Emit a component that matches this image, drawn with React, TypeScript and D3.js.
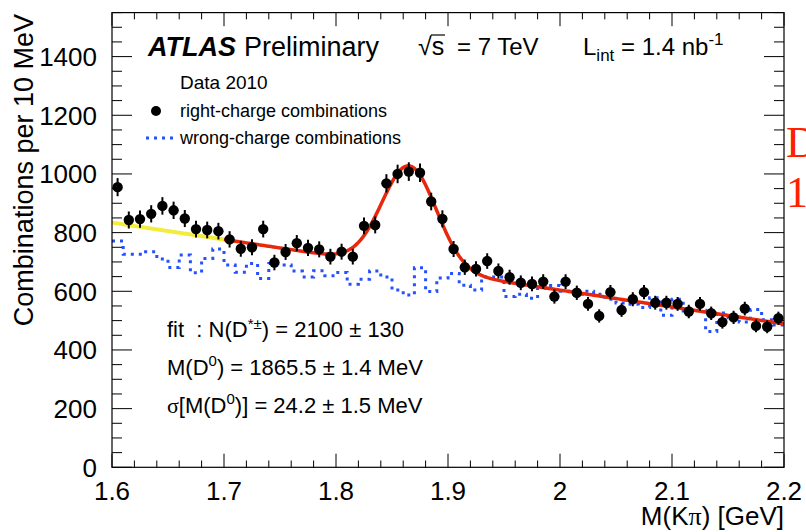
import React from "react";
import * as d3 from "d3";

// Histogram binning of the K-pi invariant mass (GeV)
const massLow = 1.6;
const massHigh = 2.2;
const binWidth = 0.01;

// Right-charge K-pi combinations per 10 MeV bin
const rightCharge = [
  955, 843, 846, 864, 891, 876, 848, 812, 809, 805,
  777, 745, 750, 812, 698, 734, 764, 748, 743, 718,
  735, 718, 823, 826, 968, 1000, 1008, 1004, 906, 847,
  744, 682, 676, 703, 669, 648, 629, 625, 633, 582,
  633, 595, 557, 516, 597, 536, 573, 597, 561, 561,
  557, 531, 557, 525, 495, 511, 541, 482, 479, 508,
];

// Wrong-charge K-pi combinations per 10 MeV bin
const wrongCharge = [
  771, 726, 726, 735, 710, 681, 724, 663, 712, 744,
  690, 665, 695, 644, 695, 690, 669, 649, 670, 653,
  664, 624, 641, 669, 649, 604, 587, 680, 599, 645,
  661, 621, 604, 649, 649, 582, 590, 576, 610, 620,
  600, 590, 600, 590, 573, 560, 556, 545, 578, 518,
  573, 533, 535, 463, 526, 510, 495, 538, 503, 485,
];

// Fit: Gaussian signal on a linear background
const fitSignalYield = 2100; // N(D*±)
const fitMean = 1.8655; // GeV
const fitSigma = 0.0242; // GeV
const fitBkgAtLow = 834; // background at 1.6 GeV, per bin
const fitBkgSlope = -575; // per GeV
const fitRangeStart = 1.7;

const xMajorTicks = [1.6, 1.7, 1.8, 1.9, 2.0, 2.1, 2.2];
const xTickLabels = ["1.6", "1.7", "1.8", "1.9", "2", "2.1", "2.2"];
const yMajorTicks = [0, 200, 400, 600, 800, 1000, 1200, 1400];

const W = 806;
const H = 532;
const left = 112;
const right = 784;
const top = 12.6;
const bottom = 467.3;
const yMax = 1550;

const FONT = "'Liberation Sans', Arial, Helvetica, sans-serif";
const SERIF = "'Liberation Serif', 'Times New Roman', serif";

const x = d3.scaleLinear().domain([massLow, massHigh]).range([left, right]);
const y = d3.scaleLinear().domain([0, yMax]).range([bottom, top]);

const background = (m: number) => fitBkgAtLow + fitBkgSlope * (m - massLow);
const signal = (m: number) =>
  ((fitSignalYield * binWidth) / (fitSigma * Math.sqrt(2 * Math.PI))) *
  Math.exp(-0.5 * ((m - fitMean) / fitSigma) ** 2);

export default function App() {
  const nBins = rightCharge.length;
  const centers = d3.range(nBins).map((i) => massLow + (i + 0.5) * binWidth);

  // Wrong-charge step histogram
  const stepPts: [number, number][] = wrongCharge.map((v, i) => [massLow + i * binWidth, v]);
  stepPts.push([massHigh, wrongCharge[wrongCharge.length - 1]]);
  const stepLine = d3
    .line<[number, number]>()
    .x((d) => x(d[0]))
    .y((d) => y(d[1]))
    .curve(d3.curveStepAfter);

  // Fit curves
  const curveLine = d3
    .line<number>()
    .x((m) => x(m))
    .y((m) => y(background(m) + signal(m)));
  const fitGrid = d3.range(fitRangeStart, massHigh + 1e-9, 0.002);
  const bkgLine = d3
    .line<number>()
    .x((m) => x(m))
    .y((m) => y(background(m)));
  const extrapGrid = [massLow, fitRangeStart];

  const xMinor = d3.range(0, 31).map((i) => massLow + i * 0.02);
  const yMinor = d3.range(0, yMax + 1, 50);

  const xMajLen = 13.6;
  const xMinLen = 6.8;
  const yMajLen = 20;
  const yMinLen = 10;

  return (
    <svg
      width={W}
      height={H}
      style={{ position: "absolute", left: 0, top: 0, background: "#fff" }}
      fontFamily={FONT}
    >
      <rect x={0} y={0} width={W} height={H} fill="#fff" />

      {/* wrong-charge histogram */}
      <path
        d={stepLine(stepPts) || ""}
        fill="none"
        stroke="#2450ff"
        strokeWidth={3}
        strokeDasharray="3 5"
      />

      {/* background extrapolation below the fit range */}
      <path d={bkgLine(extrapGrid) || ""} fill="none" stroke="#f2ec3c" strokeWidth={4} />
      {/* fit */}
      <path d={curveLine(fitGrid) || ""} fill="none" stroke="#e8280c" strokeWidth={3.5} />

      {/* right-charge data points with statistical errors */}
      {rightCharge.map((v, i) => {
        const err = Math.sqrt(v);
        return (
          <g key={i}>
            <line
              x1={x(centers[i])}
              x2={x(centers[i])}
              y1={y(v - err)}
              y2={y(v + err)}
              stroke="#000"
              strokeWidth={2}
            />
            <circle cx={x(centers[i])} cy={y(v)} r={5.2} fill="#000" />
          </g>
        );
      })}

      {/* frame */}
      <rect
        x={left}
        y={top}
        width={right - left}
        height={bottom - top}
        fill="none"
        stroke="#000"
        strokeWidth={1.2}
      />

      {/* x ticks, bottom and top */}
      {xMinor.map((m, i) => {
        const major = i % 5 === 0;
        const len = major ? xMajLen : xMinLen;
        return (
          <g key={"xt" + i} stroke="#000" strokeWidth={1}>
            <line x1={x(m)} x2={x(m)} y1={bottom} y2={bottom - len} />
            <line x1={x(m)} x2={x(m)} y1={top} y2={top + len} />
          </g>
        );
      })}
      {/* y ticks, left and right */}
      {yMinor.map((v, i) => {
        const major = v % 200 === 0;
        const len = major ? yMajLen : yMinLen;
        return (
          <g key={"yt" + i} stroke="#000" strokeWidth={1}>
            <line x1={left} x2={left + len} y1={y(v)} y2={y(v)} />
            <line x1={right} x2={right - len} y1={y(v)} y2={y(v)} />
          </g>
        );
      })}

      {/* tick labels */}
      {xMajorTicks.map((m, i) => (
        <text key={"xl" + i} x={x(m)} y={500} textAnchor="middle" fontSize={26}>
          {xTickLabels[i]}
        </text>
      ))}
      {yMajorTicks.map((v) => (
        <text key={"yl" + v} x={97} y={y(v) + 9.3} textAnchor="end" fontSize={26}>
          {v}
        </text>
      ))}

      {/* axis titles */}
      <text x={right} y={525} textAnchor="end" fontSize={26}>
        M(K<tspan fontFamily={SERIF}>π</tspan>) [GeV]
      </text>
      <text transform="translate(33,14) rotate(-90)" textAnchor="end" fontSize={27}>
        Combinations per 10 MeV
      </text>

      {/* header */}
      <text x={148} y={56} fontSize={27} fontWeight="bold" fontStyle="italic">
        ATLAS
      </text>
      <text x={244} y={56} fontSize={27}>
        Preliminary
      </text>
      <text x={418} y={55} fontSize={25}>
        √s
      </text>
      <line x1={431} x2={445} y1={35} y2={35} stroke="#000" strokeWidth={1.2} />
      <text x={457} y={55} fontSize={24}>
        = 7 TeV
      </text>
      <text x={583} y={55} fontSize={24}>
        L<tspan dy={6} fontSize={17}>int</tspan>
        <tspan dy={-6}> = 1.4 nb</tspan>
        <tspan dy={-10} fontSize={17}>-1</tspan>
      </text>

      {/* legend */}
      <text x={180} y={89} fontSize={19}>
        Data 2010
      </text>
      <circle cx={156} cy={111} r={5} fill="#000" />
      <text x={180} y={117} fontSize={18}>
        right-charge combinations
      </text>
      <line
        x1={146}
        x2={174}
        y1={138}
        y2={138}
        stroke="#2450ff"
        strokeWidth={3}
        strokeDasharray="3 5"
      />
      <text x={180} y={144} fontSize={18}>
        wrong-charge combinations
      </text>

      {/* fit results */}
      <text x={167} y={337} fontSize={22}>
        {"fit\u00a0\u00a0: N(D"}
        <tspan dy={-8} fontSize={15}>*±</tspan>
        <tspan dy={8}>) = 2100 ± 130</tspan>
      </text>
      <text x={167} y={375} fontSize={22}>
        M(D<tspan dy={-9} fontSize={15}>0</tspan>
        <tspan dy={9}>) = 1865.5 ± 1.4 MeV</tspan>
      </text>
      <text x={167} y={413} fontSize={22}>
        <tspan fontFamily={SERIF}>σ</tspan>[M(D
        <tspan dy={-9} fontSize={15}>0</tspan>
        <tspan dy={9}>)] = 24.2 ± 1.5 MeV</tspan>
      </text>

      {/* annotation running off the right edge */}
      <text x={786} y={157} fontSize={44} fill="#ff2000" fontFamily={SERIF}>
        D
      </text>
      <text x={786} y={207} fontSize={44} fill="#ff2000" fontFamily={SERIF}>
        1
      </text>
    </svg>
  );
}
